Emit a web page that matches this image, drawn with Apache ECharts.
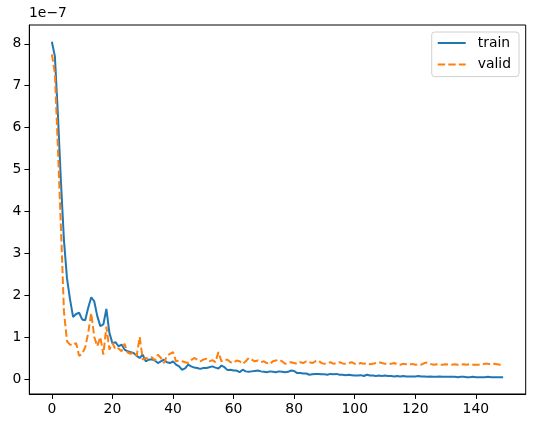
<!DOCTYPE html>
<html>
<head>
<meta charset="utf-8">
<script src="https://cdn.jsdelivr.net/npm/echarts@6/dist/echarts.min.js"></script>
<style>
  html, body { margin: 0; padding: 0; background: #fff; }
  #chart { width: 534px; height: 428px; }
</style>
</head>
<body>
<div id="chart"></div>
<script>
// values are in units of 1e-7 (shown by the offset label)
const trainLoss = [
  8.05, 7.7, 6.3, 4.7, 3.3, 2.4, 1.9, 1.48, 1.55, 1.58,
  1.42, 1.4, 1.7, 1.95, 1.85, 1.5, 1.26, 1.3, 1.67, 1.1,
  0.85, 0.88, 0.78, 0.82, 0.7, 0.66, 0.64, 0.62, 0.55, 0.5,
  0.58, 0.42, 0.46, 0.47, 0.44, 0.38, 0.42, 0.46, 0.4, 0.38,
  0.42, 0.34, 0.3, 0.22, 0.25, 0.34, 0.3, 0.27, 0.26, 0.24,
  0.26, 0.26, 0.28, 0.3, 0.27, 0.25, 0.32, 0.28, 0.21, 0.22,
  0.2, 0.2, 0.16, 0.22, 0.18, 0.17, 0.18, 0.19, 0.2, 0.18,
  0.17, 0.16, 0.18, 0.17, 0.16, 0.18, 0.17, 0.16, 0.17, 0.2,
  0.19, 0.14, 0.14, 0.13, 0.13, 0.1, 0.11, 0.12, 0.12, 0.11,
  0.11, 0.1, 0.12, 0.11, 0.12, 0.1, 0.1, 0.09, 0.1, 0.09,
  0.08, 0.08, 0.09, 0.07, 0.1, 0.08, 0.08, 0.07, 0.08, 0.07,
  0.08, 0.07, 0.07, 0.06, 0.07, 0.06, 0.07, 0.06, 0.06, 0.06,
  0.06, 0.07, 0.06, 0.06, 0.05, 0.06, 0.05, 0.05, 0.06, 0.05,
  0.05, 0.05, 0.05, 0.05, 0.04, 0.05, 0.05, 0.04, 0.04, 0.05,
  0.04, 0.04, 0.04, 0.04, 0.05, 0.04, 0.04, 0.04, 0.04, 0.04
];
const validLoss = [
  7.75, 7.3, 5.5, 3.6, 1.6, 0.9, 0.82, 0.8, 0.86, 0.55,
  0.6, 0.75, 1.1, 1.57, 1.0, 0.78, 1.0, 0.58, 1.25, 0.7,
  0.86, 0.7, 0.73, 0.66, 0.84, 0.63, 0.6, 0.63, 0.55, 1.0,
  0.46, 0.5, 0.48, 0.52, 0.44, 0.58, 0.5, 0.38, 0.55, 0.6,
  0.64, 0.42, 0.44, 0.42, 0.4, 0.38, 0.45, 0.5, 0.46, 0.42,
  0.46, 0.48, 0.42, 0.45, 0.4, 0.64, 0.42, 0.46, 0.46, 0.4,
  0.38, 0.44, 0.42, 0.36, 0.42, 0.5, 0.46, 0.42, 0.44, 0.4,
  0.42, 0.38, 0.36, 0.42, 0.44, 0.46, 0.42, 0.36, 0.38, 0.4,
  0.38, 0.36, 0.4, 0.38, 0.42, 0.4, 0.38, 0.42, 0.44, 0.38,
  0.36, 0.38, 0.4, 0.36, 0.38, 0.4, 0.37, 0.36, 0.38, 0.4,
  0.36, 0.35, 0.38, 0.36, 0.38, 0.35, 0.36, 0.38, 0.4, 0.38,
  0.36, 0.37, 0.36, 0.38, 0.35, 0.34, 0.36, 0.35, 0.34, 0.36,
  0.34, 0.35, 0.34, 0.38, 0.39, 0.36, 0.34, 0.35, 0.34, 0.34,
  0.35, 0.34, 0.34, 0.35, 0.34, 0.34, 0.35, 0.34, 0.35, 0.34,
  0.34, 0.34, 0.35, 0.36, 0.36, 0.35, 0.36, 0.35, 0.34, 0.34
];
const xTicks = [0, 20, 40, 60, 80, 100, 120, 140];
const yTicks = [0, 1, 2, 3, 4, 5, 6, 7, 8];
const offsetLabel = '1e\u22127';

const font = 'DejaVu Sans';
const toPairs = arr => arr.map((v, i) => [i, v]);

const chart = echarts.init(document.getElementById('chart'), null, { renderer: 'canvas' });
chart.setOption({
  animation: false,
  textStyle: { fontFamily: font },
  grid: {
    left: 29.3, right: 8.3, top: 25, bottom: 34,
    show: true, borderColor: '#000', borderWidth: 1, backgroundColor: 'transparent'
  },
  graphic: [{
    type: 'text', left: 29, top: 6,
    style: { text: offsetLabel, fontFamily: font, fontSize: 13.9, fill: '#000' }
  }],
  legend: {
    orient: 'vertical', right: 15, top: 32,
    padding: [4, 8, 5, 5],
    itemWidth: 28, itemHeight: 14, itemGap: 7.6,
    backgroundColor: '#fff', borderColor: '#d0d0d0', borderWidth: 1, borderRadius: 3,
    itemStyle: { opacity: 0 },
    lineStyle: { width: 2 },
    textStyle: { fontFamily: font, fontSize: 13.9, color: '#000', padding: [0, 0, 0, 7] },
    data: ['train', 'valid']
  },
  xAxis: {
    type: 'value', min: -7.45, max: 156.45,
    axisLine: { show: true, onZero: false, lineStyle: { color: '#000', width: 1 } },
    axisTick: { show: true, length: 4.9, lineStyle: { color: '#000' }, customValues: xTicks },
    axisLabel: { color: '#000', fontSize: 13.9, fontFamily: font, margin: 8, customValues: xTicks },
    splitLine: { show: false }
  },
  yAxis: {
    type: 'value', min: -0.36, max: 8.45,
    axisLine: { show: true, onZero: false, lineStyle: { color: '#000', width: 1 } },
    axisTick: { show: true, length: 4.9, lineStyle: { color: '#000' }, customValues: yTicks },
    axisLabel: { color: '#000', fontSize: 13.9, fontFamily: font, margin: 8, customValues: yTicks },
    splitLine: { show: false }
  },
  series: [
    {
      name: 'train', type: 'line', data: toPairs(trainLoss),
      symbol: 'none', color: '#1f77b4',
      lineStyle: { color: '#1f77b4', width: 2 }
    },
    {
      name: 'valid', type: 'line', data: toPairs(validLoss),
      symbol: 'none', color: '#ff7f0e',
      lineStyle: { color: '#ff7f0e', width: 2, type: [7.4, 3.2] }
    }
  ]
});
</script>
</body>
</html>
